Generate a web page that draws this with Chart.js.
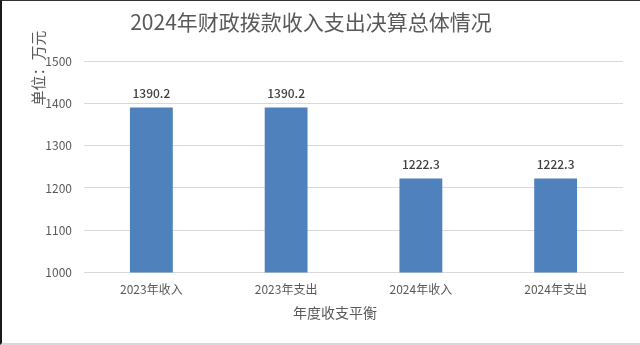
<!DOCTYPE html>
<html>
<head>
<meta charset="utf-8">
<script src="https://cdn.jsdelivr.net/npm/chart.js@4"></script>
<style>
  html, body { margin: 0; padding: 0; background: #fff; }
  #box {
    width: 640px; height: 345px; box-sizing: border-box;
    border-left: 2px solid #1a1a1a; border-top: 1px solid #333;
    border-bottom: 2px solid #d9d9d9;
  }
  #wrap { position: relative; width: 638px; height: 342px; }
</style>
</head>
<body>
<div id="box"><div id="wrap"><canvas id="chart"></canvas></div></div>
<script>
const categories = ["2023年收入", "2023年支出", "2024年收入", "2024年支出"];
const values = [1390.2, 1390.2, 1222.3, 1222.3];
const yTicks = [1000, 1100, 1200, 1300, 1400, 1500];

const font = "'Noto Sans CJK SC', 'Noto Sans', sans-serif";
const titleText = "2024年财政拨款收入支出决算总体情况";
const xTitle = "年度收支平衡";
const yTitle = "单位：万元";

// value labels over the bars
const barLabels = {
  id: "barLabels",
  afterDatasetsDraw(chart) {
    const ctx = chart.ctx;
    const meta = chart.getDatasetMeta(0);
    ctx.save();
    ctx.font = "500 12px " + font;
    ctx.fillStyle = "#404040";
    ctx.textAlign = "center";
    ctx.textBaseline = "bottom";
    meta.data.forEach((bar, i) => {
      ctx.fillText(values[i].toFixed(1), bar.x, bar.y - 8);
    });
    ctx.restore();
  }
};

// chart title, axis title and rotated unit title
const titles = {
  id: "titles",
  afterDraw(chart) {
    const ctx = chart.ctx;
    const area = chart.chartArea;
    ctx.save();
    ctx.fillStyle = "#595959";
    ctx.textAlign = "center";
    ctx.textBaseline = "middle";
    ctx.font = "21px " + font;
    ctx.fillText(titleText, chart.width / 2 - 10, 21);

    ctx.font = "14px " + font;
    ctx.fillText(xTitle, chart.width / 2 + 14, 312);

    ctx.translate(area.left - 46, area.top + 7);
    ctx.rotate(-Math.PI / 2);
    ctx.font = "15px " + font;
    ctx.fillText(yTitle, 0, 0);
    ctx.restore();
  }
};

new Chart(document.getElementById("chart"), {
  type: "bar",
  data: {
    labels: categories,
    datasets: [{
      data: values,
      backgroundColor: "#4f81bd",
      barPercentage: 0.318,
      categoryPercentage: 1
    }]
  },
  options: {
    responsive: true,
    maintainAspectRatio: false,
    animation: false,
    layout: { padding: { left: 0, right: 17, top: 60, bottom: 36 } },
    plugins: {
      legend: { display: false },
      tooltip: { enabled: false },
      title: { display: false }
    },
    scales: {
      x: {
        grid: { display: false, drawTicks: false },
        border: { color: "#d9d9d9", width: 1 },
        ticks: { color: "#595959", font: { family: font, size: 12 }, padding: 10 }
      },
      y: {
        min: yTicks[0],
        max: yTicks[yTicks.length - 1],
        afterFit(scale) { scale.width = 82; },
        afterBuildTicks(scale) { scale.ticks = yTicks.map(v => ({ value: v })); },
        grid: { color: "#d9d9d9", drawTicks: false },
        border: { display: false },
        ticks: {
          color: "#595959",
          font: { family: font, size: 12 },
          padding: 12,
          callback: v => String(v)
        }
      }
    }
  },
  plugins: [barLabels, titles]
});
</script>
</body>
</html>
